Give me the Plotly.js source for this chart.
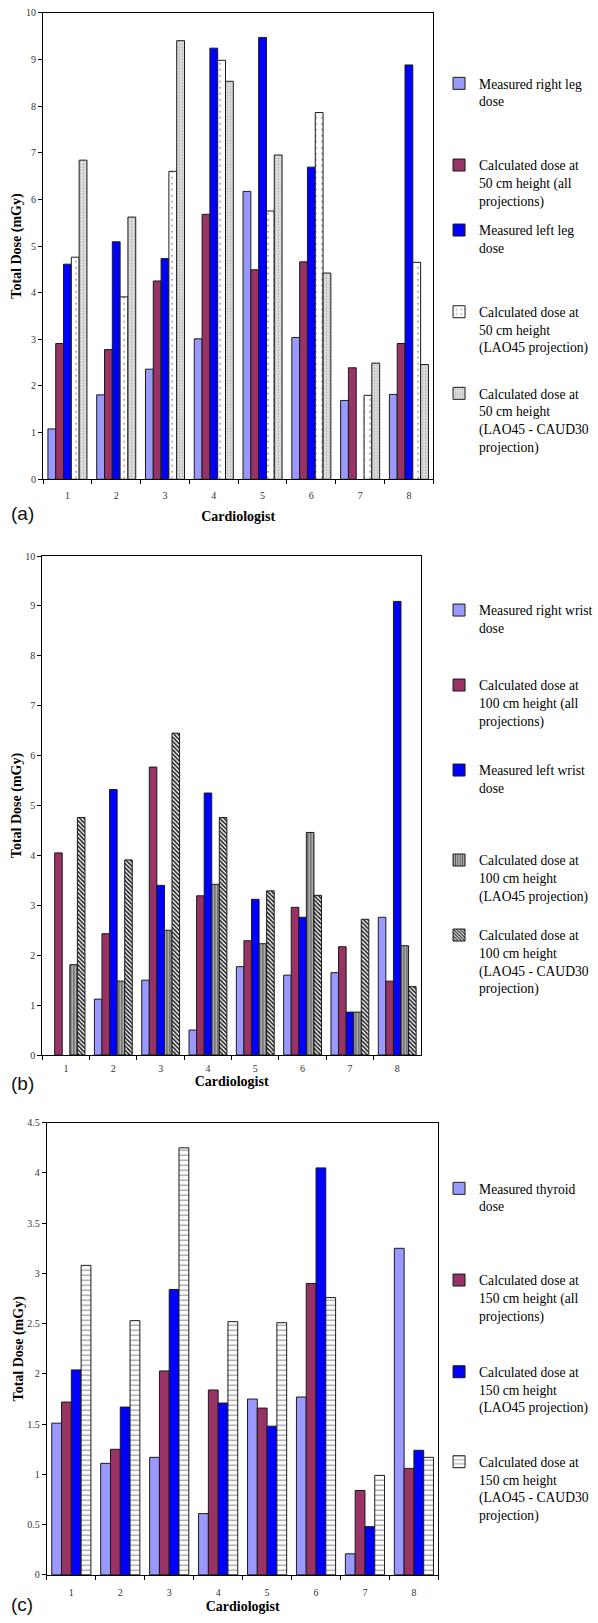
<!DOCTYPE html>
<html>
<head>
<meta charset="utf-8">
<script src="https://cdn.plot.ly/plotly-3.0.1.min.js"></script>
<style>
html,body{margin:0;padding:0;background:#fff;}
#chart{width:598px;height:1623px;}
</style>
</head>
<body>
<div id="chart"></div>
<script>
// ---------- data ----------
const cardiologists = ['1','2','3','4','5','6','7','8'];

// (a) leg doses
const measuredRightLeg   = [1.08, 1.81, 2.36, 3.01, 6.17, 3.04, 1.69, 1.82];
const calc50All          = [2.91, 2.78, 4.25, 5.68, 4.49, 4.66, 2.39, 2.91];
const measuredLeftLeg    = [4.61, 5.09, 4.73, 9.24, 9.47, 6.69, null, 8.88];
const calc50LAO45        = [4.76, 3.91, 6.60, 8.98, 5.75, 7.86, 1.80, 4.65];
const calc50LAO45Caud30  = [6.84, 5.62, 9.40, 8.53, 6.95, 4.42, 2.49, 2.46];

// (b) wrist doses
const measuredRightWrist = [null, 1.12, 1.50, 0.50, 1.77, 1.60, 1.65, 2.76];
const calc100All         = [4.05, 2.43, 5.77, 3.19, 2.29, 2.96, 2.17, 1.48];
const measuredLeftWrist  = [null, 5.32, 3.40, 5.25, 3.12, 2.76, 0.86, 9.09];
const calc100LAO45       = [1.81, 1.48, 2.50, 3.42, 2.23, 4.46, 0.86, 2.19];
const calc100LAO45Caud30 = [4.76, 3.91, 6.45, 4.76, 3.29, 3.20, 2.72, 1.37];

// (c) thyroid doses
const measuredThyroid    = [1.51, 1.11, 1.17, 0.61, 1.75, 1.77, 0.21, 3.25];
const calc150All         = [1.72, 1.25, 2.03, 1.84, 1.66, 2.90, 0.84, 1.06];
const calc150LAO45       = [2.04, 1.67, 2.84, 1.71, 1.48, 4.05, 0.48, 1.24];
const calc150LAO45Caud30 = [3.08, 2.53, 4.25, 2.52, 2.51, 2.76, 0.99, 1.17];

// legend names
const namesA = ['Measured right leg<br>dose','Calculated dose at<br>50 cm height (all<br>projections)','Measured left leg<br>dose','Calculated dose at<br>50 cm height<br>(LAO45 projection)','Calculated dose at<br>50 cm height<br>(LAO45 - CAUD30<br>projection)'];
const namesB = ['Measured right wrist<br>dose','Calculated dose at<br>100 cm height (all<br>projections)','Measured left wrist<br>dose','Calculated dose at<br>100 cm height<br>(LAO45 projection)','Calculated dose at<br>100 cm height<br>(LAO45 - CAUD30<br>projection)'];
const namesC = ['Measured thyroid<br>dose','Calculated dose at<br>150 cm height (all<br>projections)','Calculated dose at<br>150 cm height<br>(LAO45 projection)','Calculated dose at<br>150 cm height<br>(LAO45 - CAUD30<br>projection)'];

// ---------- styling ----------
const W = 598, H = 1623;
const serif = 'Liberation Serif, Times New Roman, serif';
const sans = 'Liberation Sans, Arial, sans-serif';
const OUT = {color:'#1a1a1a', width:1};

const sty = {
  lilac:  {color:'#9999FF'},
  plum:   {color:'#993366'},
  blue:   {color:'#0000FF'},
  dotsW:  {color:'#FFFFFF', pattern:{shape:'.', bgcolor:'#FFFFFF', fgcolor:'#A8A8A8', size:6, solidity:0.1, fillmode:'replace'}},
  dotsG:  {color:'#E0E0E0', pattern:{shape:'.', bgcolor:'#E4E4E4', fgcolor:'#B0B0B0', size:3, solidity:0.3, fillmode:'replace'}},
  vstripe:{color:'#A0A0A0', pattern:{shape:'|', bgcolor:'#B4B4B4', fgcolor:'#555555', size:3, solidity:0.4, fillmode:'replace'}},
  hatch:  {color:'#666666', pattern:{shape:'\\', bgcolor:'#FFFFFF', fgcolor:'#222222', size:3, solidity:0.55, fillmode:'replace'}},
  dashW:  {color:'#FFFFFF', pattern:{shape:'-', bgcolor:'#FFFFFF', fgcolor:'#999999', size:5, solidity:0.25, fillmode:'replace'}}
};

let legCount = 0;
const traces = [];
const legends = {};
function addBar(name, y, xa, ya, s, lineCenter){
  legCount++;
  const key = legCount === 1 ? 'legend' : 'legend' + legCount;
  const marker = {color:s.color, line:OUT};
  if (s.pattern) marker.pattern = s.pattern;
  traces.push({type:'bar', name, x:cardiologists, y, xaxis:xa, yaxis:ya, legend:key,
               marker, hovertemplate:'%{x}: %{y}<extra></extra>'});
  legends[key] = {x:459/W, xanchor:'left', y:1-(lineCenter-15.3)/H, yanchor:'top',
                  bgcolor:'rgba(0,0,0,0)', borderwidth:0, valign:'top',
                  font:{family:serif, size:13.6, color:'#000'},
                  itemclick:false, itemdoubleclick:false};
}

// (a)
const topsA = [83.3, 165, 230, 311.7, 393.3];
[[measuredRightLeg,sty.lilac],[calc50All,sty.plum],[measuredLeftLeg,sty.blue],[calc50LAO45,sty.dotsW],[calc50LAO45Caud30,sty.dotsG]]
  .forEach((d,i)=>addBar(namesA[i], d[0], 'x', 'y', d[1], topsA[i]));
// (b)
const topsB = [610, 685, 770, 860, 935];
[[measuredRightWrist,sty.lilac],[calc100All,sty.plum],[measuredLeftWrist,sty.blue],[calc100LAO45,sty.vstripe],[calc100LAO45Caud30,sty.hatch]]
  .forEach((d,i)=>addBar(namesB[i], d[0], 'x2', 'y2', d[1], topsB[i]));
// (c)
const topsC = [1188.3, 1280, 1371.7, 1461.7];
[[measuredThyroid,sty.lilac],[calc150All,sty.plum],[calc150LAO45,sty.blue],[calc150LAO45Caud30,sty.dashW]]
  .forEach((d,i)=>addBar(namesC[i], d[0], 'x3', 'y3', d[1], topsC[i]));

const tickFont = {family:serif, size:10, color:'#333'};
const titleFont = {family:serif, size:14, color:'#000', weight:'bold'};

function xAx(x0, x1, anchor, labelGap, standoff){
  return {domain:[x0/W, x1/W], anchor, type:'category', showline:true, linecolor:'#000', linewidth:1,
          mirror:true, ticks:'outside', ticklen:4, tickcolor:'#000', tickson:'boundaries',
          ticklabelstandoff:labelGap,
          showgrid:false, zeroline:false, tickfont:tickFont, automargin:false, fixedrange:true,
          title:{text:'Cardiologist', font:titleFont, standoff}};
}
function yAx(top, bot, range, dtick, anchor, standoff){
  return {domain:[1-bot/H, 1-top/H], anchor, range, dtick, tick0:0, showline:true, linecolor:'#000',
          linewidth:1, mirror:true, ticks:'outside', ticklen:4, tickcolor:'#000', showgrid:false,
          zeroline:false, tickfont:tickFont, automargin:false, fixedrange:true,
          title:{text:'Total Dose (mGy)', font:titleFont, standoff}};
}

const panelFont = {family:sans, size:19, color:'#111'};
const layout = Object.assign({
  width:W, height:H, margin:{l:0, r:0, t:0, b:0},
  paper_bgcolor:'#fff', plot_bgcolor:'#fff',
  barmode:'group', bargap:0.2, bargroupgap:0, showlegend:true,
  font:{family:serif, color:'#000'},
  xaxis:  xAx(45, 453, 'y', 7, 10),
  yaxis:  yAx(12.7, 479.3, [0,10], 1, 'x', 1),
  xaxis2: xAx(44.3, 440, 'y2', 4, 2),
  yaxis2: yAx(556, 1055, [0,10], 1, 'x2', 0),
  xaxis3: xAx(49, 458.3, 'y3', 8, 4),
  yaxis3: yAx(1122.7, 1574.9, [0,4.5], 0.5, 'x3', 0),
  annotations:[
    {text:'(a)', xref:'paper', yref:'paper', x:23/W, y:1-513/H, showarrow:false, xanchor:'center', yanchor:'middle', font:panelFont},
    {text:'(b)', xref:'paper', yref:'paper', x:23/W, y:1-1083/H, showarrow:false, xanchor:'center', yanchor:'middle', font:panelFont},
    {text:'(c)', xref:'paper', yref:'paper', x:23/W, y:1-1604/H, showarrow:false, xanchor:'center', yanchor:'middle', font:panelFont}
  ]
}, legends);

Plotly.newPlot('chart', traces, layout, {staticPlot:true, displayModeBar:false});
</script>
</body>
</html>
